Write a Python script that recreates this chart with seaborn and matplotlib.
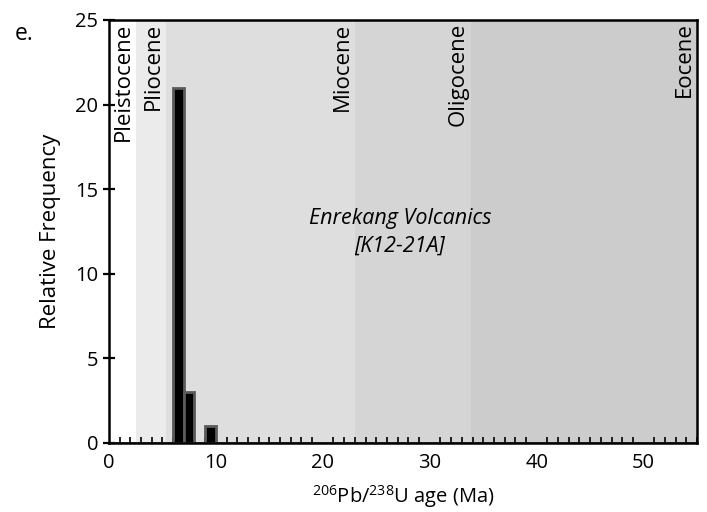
import matplotlib
matplotlib.use("Agg")
import matplotlib.pyplot as plt
from matplotlib.ticker import MultipleLocator
import seaborn as sns
import numpy as np
import pandas as pd

# Histogram of U-Pb ages (1 Myr bins)
bin_starts = [6, 7, 9]
bin_counts = [21, 3, 1]
bin_width = 1

# Geological epochs (Ma): name, start, end, shading
epoch_names = ["Pleistocene", "Pliocene", "Miocene", "Oligocene", "Eocene"]
epoch_starts = [0.0, 2.58, 5.33, 23.03, 33.9]
epoch_ends = [2.58, 5.33, 23.03, 33.9, 56.0]
epoch_colors = ["#ffffff", "#ebebeb", "#dedede", "#d5d5d5", "#cccccc"]

sns.set_style("white")
plt.rcParams["font.family"] = ["Open Sans", "DejaVu Sans"]
plt.rcParams["mathtext.fontset"] = "custom"
plt.rcParams["mathtext.rm"] = "Open Sans"
plt.rcParams["mathtext.it"] = "Open Sans:italic"
plt.rcParams["text.color"] = "black"
plt.rcParams["axes.labelcolor"] = "black"
plt.rcParams["xtick.color"] = "black"
plt.rcParams["ytick.color"] = "black"

fig = plt.figure(figsize=(7.07, 5.12), dpi=100)
ax = fig.add_axes([0.154, 0.135, 0.832, 0.826])

for s, e, c in zip(epoch_starts, epoch_ends, epoch_colors):
    ax.axvspan(s, e, color=c, lw=0, zorder=0)

hist_df = pd.DataFrame({
    "age": np.array(bin_starts, dtype=float) + bin_width / 2,
    "count": np.array(bin_counts, dtype=float),
})
sns.histplot(data=hist_df, x="age", weights="count", binwidth=bin_width,
             binrange=(0, 55), ax=ax, color="black", alpha=1,
             edgecolor="#5a5a5a", linewidth=2.0, zorder=3)

for name, e in zip(epoch_names, epoch_ends):
    xe = min(e, 55.0)
    ax.text(xe - 1.2, 24.85, name, rotation=90, ha="center", va="top",
            fontsize=16, color="black", zorder=4)

ax.text(27.2, 12.45, "Enrekang Volcanics\n[K12-21A]", style="italic",
        ha="center", va="center", fontsize=15.5, linespacing=1.45,
        color="black", zorder=4)

ax.set_xlim(0, 55)
ax.set_ylim(0, 25)
ax.xaxis.set_major_locator(MultipleLocator(10))
ax.xaxis.set_minor_locator(MultipleLocator(1))
ax.yaxis.set_major_locator(MultipleLocator(5))

ax.tick_params(axis="x", which="major", direction="inout", length=9,
               width=1.6, labelsize=14.5, pad=3, color="black",
               labelcolor="black")
ax.tick_params(axis="x", which="minor", direction="in", length=4,
               width=1.2, color="black", bottom=True)
ax.tick_params(axis="y", which="major", direction="inout", length=9,
               width=1.6, labelsize=14.5, pad=3, color="black", left=True,
               labelcolor="black")

for sp in ax.spines.values():
    sp.set_visible(True)
    sp.set_color("black")
    sp.set_linewidth(1.8)
    sp.set_zorder(5)

ax.set_xlabel("$^{206}$Pb/$^{238}$U age (Ma)", fontsize=14.5, labelpad=7,
              color="black")
ax.set_ylabel("Relative Frequency", fontsize=16, labelpad=10, color="black")

fig.text(0.021, 0.933, "e.", fontsize=16.5, ha="left", va="center",
         color="black")

fig.savefig("out.png", dpi=100)
